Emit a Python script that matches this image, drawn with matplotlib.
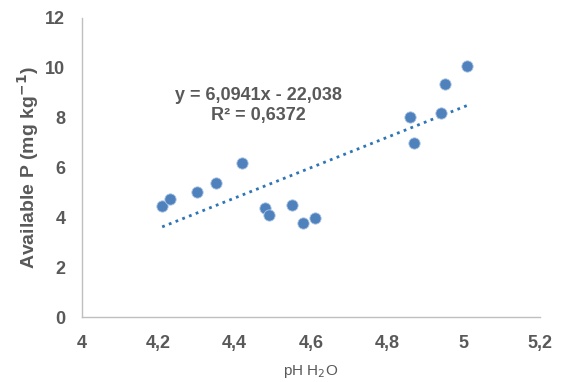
import matplotlib
matplotlib.use("Agg")
import matplotlib.pyplot as plt
import numpy as np

plt.rcParams["font.family"] = ["Liberation Sans", "DejaVu Sans"]

# pH H2O vs available P
ph = [4.21, 4.23, 4.30, 4.35, 4.42, 4.48, 4.49, 4.55, 4.58, 4.61,
      4.87, 4.86, 4.94, 4.95, 5.01]
avail_p = [4.45, 4.72, 5.03, 5.39, 6.19, 4.39, 4.09, 4.49, 3.76, 3.99,
           6.97, 8.03, 8.19, 9.35, 10.07]
slope, intercept = 6.0941, -22.038
r2 = 0.6372

x_ticks = [4, 4.2, 4.4, 4.6, 4.8, 5, 5.2]
y_ticks = [0, 2, 4, 6, 8, 10, 12]

grey = "#595959"
fig = plt.figure(figsize=(5.63, 3.82), dpi=100)
ax = fig.add_axes([0.1457, 0.170, 0.8134, 0.783])

ax.scatter(ph, avail_p, s=66, color="#4f81bd", edgecolors="#a9c4e4",
           linewidths=0.6, zorder=3)

xl = np.array([min(ph), max(ph)])
ax.plot(xl, slope * xl + intercept, linestyle=(0, (1, 1.6)), color="#2e75b6",
        lw=2.0, zorder=2)

ax.text(4.462, 8.48, "y = 6,0941x - 22,038\nR² = 0,6372", ha="center", va="center",
        fontsize=13, fontweight="bold", color=grey, linespacing=1.25)

ax.set_xlim(4, 5.2)
ax.set_ylim(0, 12)
ax.set_xticks(x_ticks)
ax.set_xticklabels([f"{t:g}".replace(".", ",") for t in x_ticks])
ax.set_yticks(y_ticks)
ax.tick_params(length=0, labelsize=13, colors=grey)
ax.tick_params(axis="y", pad=12)
ax.tick_params(axis="x", pad=13)
for lab in ax.get_xticklabels() + ax.get_yticklabels():
    lab.set_fontweight("bold")

for side in ("top", "right"):
    ax.spines[side].set_visible(False)
for side in ("left", "bottom"):
    ax.spines[side].set_color("#bfbfbf")
    ax.spines[side].set_linewidth(1.0)

ax.set_xlabel("pH H$_2$O", fontsize=11, color=grey, labelpad=8)
ax.set_ylabel("Available P (mg kg$^{\\mathbf{-1}}$)", fontsize=14, fontweight="bold",
              color=grey, labelpad=3)

fig.savefig("out.png", dpi=100)
